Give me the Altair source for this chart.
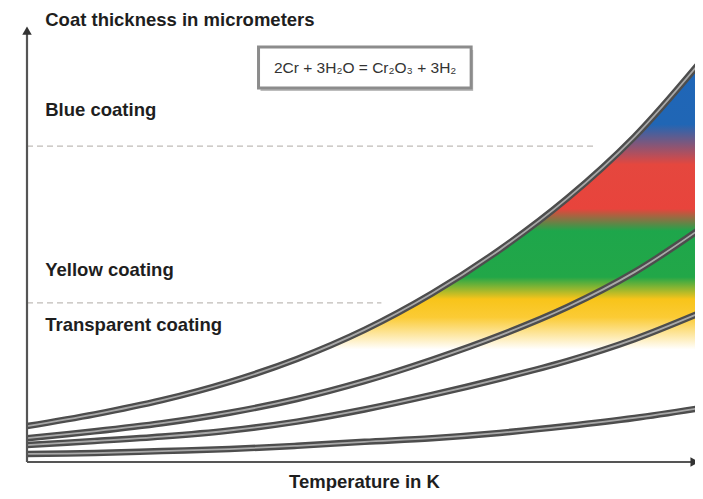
import altair as alt
import pandas as pd

# ---- data (schematic, arbitrary units) ----
temperature = [0, 10, 20, 30, 40, 50, 60, 70, 80, 90, 100]
curve_a = [8.9, 11.8, 15.3, 19.8, 25.5, 32.7, 41.7, 52.5, 65.2, 80.5, 99.5]
curve_b = [5.9, 7.6, 9.6, 12.2, 15.6, 20.0, 25.3, 31.3, 38.3, 47.0, 58.0]
curve_c = [4.2, 5.2, 6.3, 7.8, 10.0, 13.0, 16.6, 20.6, 25.0, 30.4, 37.1]
curve_d = [2.0, 2.2, 2.7, 3.2, 4.0, 5.0, 5.9, 7.2, 8.9, 10.9, 13.4]

threshold_levels = [78.2, 39.4]
threshold_ends = [84.4, 52.5]

coating_labels = ["Blue coating", "Yellow coating", "Transparent coating"]
coating_label_y = [87.1, 47.6, 34.0]
label_x = 2.7

y_title = "Coat thickness in micrometers"
x_title = "Temperature in K"
formula = "2Cr + 3H\u2082O = Cr\u2082O\u2083 + 3H\u2082"

# ---- tables ----
curves = pd.DataFrame({
    "T": temperature * 4,
    "Th": curve_a + curve_b + curve_c + curve_d,
    "curve": ["a"] * 11 + ["b"] * 11 + ["c"] * 11 + ["d"] * 11,
})
top = pd.DataFrame({"T": temperature, "Th": curve_a})
dash = pd.DataFrame({"y": threshold_levels, "x0": [0, 0], "x1": threshold_ends})
labels = pd.DataFrame({"text": coating_labels, "x": [label_x] * 3, "y": coating_label_y})

xs = alt.Scale(domain=[0, 100], range=[19, 694], nice=False, zero=False)
ys = alt.Scale(domain=[0, 100], range=[454, 50], nice=False, zero=False)

def X(f):
    return alt.X(f, type="quantitative", scale=xs, axis=None)

def Y(f):
    return alt.Y(f, type="quantitative", scale=ys, axis=None)

grad = alt.Gradient(
    gradient="linear", x1=0, x2=0, y1=0, y2=1,
    stops=[
        alt.GradientStop(color="#1f66b8", offset=0.0),
        alt.GradientStop(color="#2066b5", offset=0.16),
        alt.GradientStop(color="#e5473e", offset=0.26),
        alt.GradientStop(color="#e8443c", offset=0.37),
        alt.GradientStop(color="#1ea64b", offset=0.425),
        alt.GradientStop(color="#22a748", offset=0.54),
        alt.GradientStop(color="#f8c41a", offset=0.595),
        alt.GradientStop(color="#fbcb35", offset=0.64),
        alt.GradientStop(color="#ffffff", offset=0.72),
        alt.GradientStop(color="#ffffff", offset=1.0),
    ],
)

interp = "catmull-rom"

area = alt.Chart(top).mark_area(color=grad, interpolate=interp).encode(
    x=X("T"), y=Y("Th"), y2=alt.datum(0)
)

dashes = alt.Chart(dash).mark_rule(color="#c0bcb8", strokeDash=[6, 4], strokeWidth=1.3).encode(
    x=X("x0"), x2="x1", y=Y("y")
)

outer = alt.Chart(curves).mark_line(color="#4d4d4d", strokeWidth=6.5, interpolate=interp).encode(
    x=X("T"), y=Y("Th"), detail="curve:N"
)
inner = alt.Chart(curves).mark_line(color="#a8a8a8", strokeWidth=1.8, interpolate=interp).encode(
    x=X("T"), y=Y("Th"), detail="curve:N"
)

axes_df = pd.DataFrame({"x": [0, 0], "x2": [0, 98.4], "y": [0, 0], "y2": [106.0, 0]})
axes = alt.Chart(axes_df).mark_rule(color="#555555", strokeWidth=2.2).encode(
    x=X("x"), x2="x2", y=Y("y"), y2="y2"
)
arrow_up = alt.Chart(pd.DataFrame({"x": [0], "y": [106.8]})).mark_point(
    shape="triangle-up", filled=True, color="#333333", size=90, opacity=1
).encode(x=X("x"), y=Y("y"))
arrow_right = alt.Chart(pd.DataFrame({"x": [98.9], "y": [0]})).mark_point(
    shape="triangle-right", filled=True, color="#333333", size=90, opacity=1
).encode(x=X("x"), y=Y("y"))

text_style = dict(font="Liberation Sans", fontWeight="bold", fontSize=18.5, color="#1e1e1e",
                  baseline="middle")

label_marks = alt.Chart(labels).mark_text(align="left", **text_style).encode(
    x=X("x"), y=Y("y"), text="text:N"
)

ytitle = alt.Chart(pd.DataFrame({"text": [y_title], "x": [label_x], "y": [109.4]})).mark_text(
    align="left", **text_style
).encode(x=X("x"), y=Y("y"), text="text:N")

xtitle = alt.Chart(pd.DataFrame({"text": [x_title], "x": [50.0], "y": [-5.0]})).mark_text(
    align="center", **text_style
).encode(x=X("x"), y=Y("y"), text="text:N")

box_df = pd.DataFrame({"x": [34.3], "x2": [65.8], "y": [102.7], "y2": [92.6]})
box_shadow = alt.Chart(box_df).mark_rect(color="#bdbdbd", xOffset=2, yOffset=3, x2Offset=2, y2Offset=3).encode(
    x=X("x"), x2="x2", y=Y("y"), y2="y2"
)
box = alt.Chart(box_df).mark_rect(fill="#ffffff", stroke="#8c8c8c", strokeWidth=3).encode(
    x=X("x"), x2="x2", y=Y("y"), y2="y2"
)
formula_text = alt.Chart(pd.DataFrame({"text": [formula], "x": [50.1], "y": [97.6]})).mark_text(
    align="center", baseline="middle", font="Liberation Sans", fontSize=15.5, color="#333333"
).encode(x=X("x"), y=Y("y"), text="text:N")

chart = alt.layer(
    area, dashes, outer, inner, axes, arrow_up, arrow_right,
    label_marks, ytitle, xtitle, box_shadow, box, formula_text
).properties(
    width=687, height=483, padding=0, autosize=alt.AutoSizeParams(type="none"),
    background="white"
).configure_view(strokeWidth=0)

chart.save("out.html", embed_options={"renderer": "svg", "actions": False})
